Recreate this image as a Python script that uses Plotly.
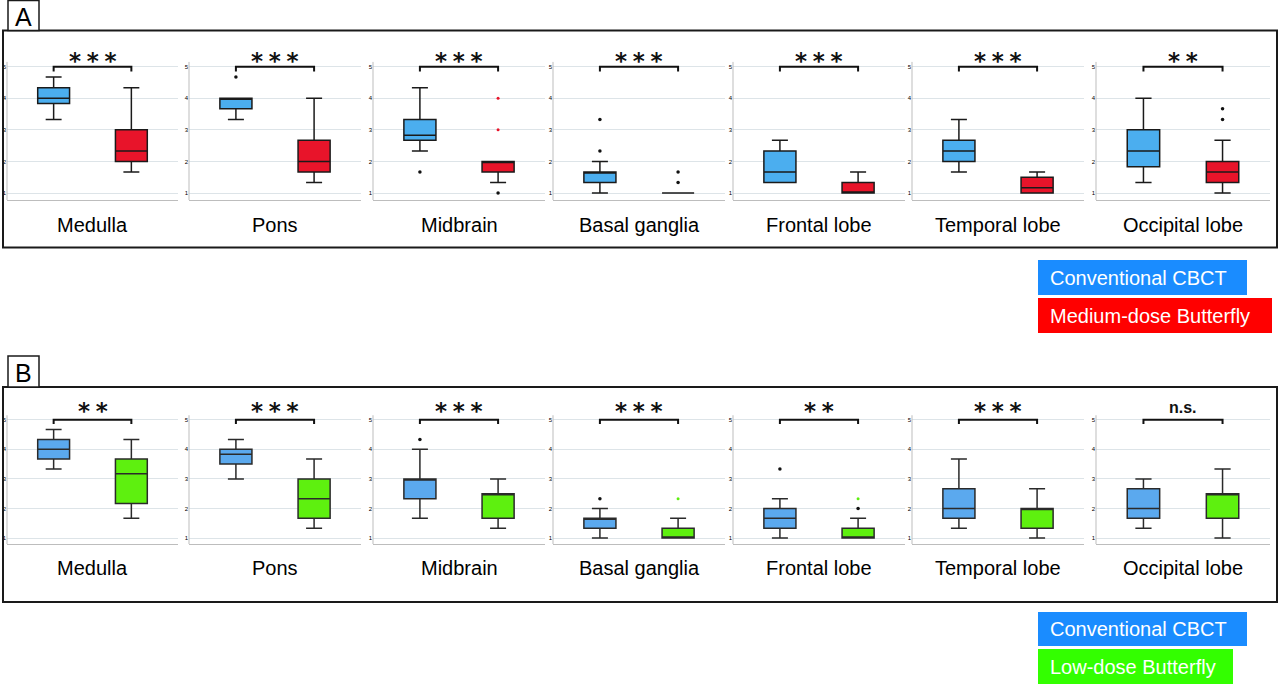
import plotly.graph_objects as go

W, H = 1280, 684

regions = ["Medulla", "Pons", "Midbrain", "Basal ganglia", "Frontal lobe", "Temporal lobe", "Occipital lobe"]
ticks = [1, 2, 3, 4, 5]

# Panel A: Conventional CBCT vs Medium-dose Butterfly
A_conv_lf = [3.33, 3.33, 2.33, 1.0, 1.33, 1.67, 1.33]
A_conv_q1 = [3.83, 3.67, 2.67, 1.33, 1.33, 2.0, 1.83]
A_conv_med = [4.0, 4.0, 2.83, 1.67, 1.67, 2.33, 2.33]
A_conv_q3 = [4.33, 4.0, 3.33, 1.67, 2.33, 2.67, 3.0]
A_conv_uf = [4.67, 4.0, 4.33, 2.0, 2.67, 3.33, 4.0]
A_conv_out = [[], [4.67], [1.67], [3.33, 2.33], [], [], []]

A_med_lf = [1.67, 1.33, 1.33, 1.0, 1.0, 1.0, 1.0]
A_med_q1 = [2.0, 1.67, 1.67, 1.0, 1.0, 1.0, 1.33]
A_med_med = [2.33, 2.0, 2.0, 1.0, 1.0, 1.17, 1.67]
A_med_q3 = [3.0, 2.67, 2.0, 1.0, 1.33, 1.5, 2.0]
A_med_uf = [4.33, 4.0, 2.0, 1.0, 1.67, 1.67, 2.67]
A_med_out = [[], [], [1.0], [1.67, 1.33], [], [], [3.67, 3.33]]
A_med_out_col = [[], [], [4.0, 3.0], [], [], [], []]
A_sig = ["* * *", "* * *", "* * *", "* * *", "* * *", "* * *", "* *"]

# Panel B: Conventional CBCT vs Low-dose Butterfly
B_conv_lf = [3.33, 3.0, 1.67, 1.0, 1.0, 1.33, 1.33]
B_conv_q1 = [3.67, 3.5, 2.33, 1.33, 1.33, 1.67, 1.67]
B_conv_med = [4.0, 3.83, 3.0, 1.67, 1.67, 2.0, 2.0]
B_conv_q3 = [4.33, 4.0, 3.0, 1.67, 2.0, 2.67, 2.67]
B_conv_uf = [4.67, 4.33, 4.0, 2.0, 2.33, 3.67, 3.0]
B_conv_out = [[], [], [4.33], [2.33], [3.33], [], []]

B_low_lf = [1.67, 1.33, 1.33, 1.0, 1.0, 1.0, 1.0]
B_low_q1 = [2.17, 1.67, 1.67, 1.0, 1.0, 1.33, 1.67]
B_low_med = [3.17, 2.33, 2.5, 1.0, 1.0, 2.0, 2.5]
B_low_q3 = [3.67, 3.0, 2.5, 1.33, 1.33, 2.0, 2.5]
B_low_uf = [4.33, 3.67, 3.0, 1.67, 1.67, 2.67, 3.33]
B_low_out = [[], [], [], [], [2.0], [], []]
B_low_out_col = [[], [], [], [2.33], [2.33], [], []]
B_sig = ["* *", "* * *", "* * *", "* * *", "* *", "* * *", "n.s."]

panels = [
    dict(name="A",
         conv=(A_conv_lf, A_conv_q1, A_conv_med, A_conv_q3, A_conv_uf, A_conv_out),
         other=(A_med_lf, A_med_q1, A_med_med, A_med_q3, A_med_uf, A_med_out),
         other_col_out=A_med_out_col, sig=A_sig,
         conv_fill="#4BAEEF", other_fill="#E8142A", line_col="#1a1a1a",
         bottom=200, ppu=31.6, yr=[0.78, 5.45], label_y=225, star_y=5.18, ns_y=5.3,
         frame=(3, 30.5, 1277, 247.5), tag=(8, 0.5, 39, 30.5),
         legend=[("Conventional CBCT", "#1A8CFF", 1038, 260, 1247, 295),
                 ("Medium-dose Butterfly", "#FF0000", 1038, 298, 1272, 333)]),
    dict(name="B",
         conv=(B_conv_lf, B_conv_q1, B_conv_med, B_conv_q3, B_conv_uf, B_conv_out),
         other=(B_low_lf, B_low_q1, B_low_med, B_low_q3, B_low_uf, B_low_out),
         other_col_out=B_low_out_col, sig=B_sig,
         conv_fill="#5BA9EE", other_fill="#5EF00F", line_col="#2a2a2a",
         bottom=544, ppu=29.6, yr=[0.8, 5.6], label_y=568, star_y=5.3, ns_y=5.42,
         frame=(3, 387, 1277, 602), tag=(8, 356, 39, 387),
         legend=[("Conventional CBCT", "#1A8CFF", 1038, 612, 1247, 646),
                 ("Low-dose Butterfly", "#33FF00", 1038, 649, 1233, 684)]),
]

lefts = [7, 189, 373, 553, 733, 912, 1096]
widths = [171, 172, 172, 172, 172, 172, 174]

def px(x):
    return x / W

def py(y):
    return 1 - y / H

fig = go.Figure()
layout = dict(width=W, height=H, margin=dict(l=0, r=0, t=0, b=0),
              paper_bgcolor="white", plot_bgcolor="white", showlegend=False,
              font=dict(family="Liberation Sans, Arial, sans-serif"))
shapes = []
annotations = []

k = 0
for p in panels:
    top_px = p["bottom"] - (p["yr"][1] - p["yr"][0]) * p["ppu"]
    for i, reg in enumerate(regions):
        k += 1
        xn = "x" if k == 1 else f"x{k}"
        yn = "y" if k == 1 else f"y{k}"
        xa = "xaxis" if k == 1 else f"xaxis{k}"
        ya = "yaxis" if k == 1 else f"yaxis{k}"
        layout[xa] = dict(domain=[px(lefts[i]), px(lefts[i] + widths[i])], anchor=yn,
                          range=[-0.6, 1.6], showticklabels=False, showgrid=False,
                          zeroline=False, showline=True, linecolor="#bdbdbd", linewidth=1,
                          fixedrange=True)
        layout[ya] = dict(domain=[py(p["bottom"]), py(top_px)], anchor=xn,
                          range=p["yr"], tickvals=ticks, ticktext=[str(t) for t in ticks],
                          tickfont=dict(size=6, color="#000"), showgrid=True,
                          gridcolor="#dde4e8", gridwidth=1, zeroline=False, showline=False,
                          ticks="", ticklen=0, fixedrange=True)
        for pos, stats, fill in [(0, p["conv"], p["conv_fill"]), (1, p["other"], p["other_fill"])]:
            lf, q1, md, q3, uf, out = stats
            fig.add_trace(go.Box(x=[pos], lowerfence=[lf[i]], q1=[q1[i]], median=[md[i]],
                                 q3=[q3[i]], upperfence=[uf[i]], width=0.41, whiskerwidth=0.5,
                                 fillcolor=fill, line=dict(color=p["line_col"], width=1.5),
                                 boxpoints=False, xaxis=xn, yaxis=yn, hoverinfo="skip"))
            if out[i]:
                fig.add_trace(go.Scatter(x=[pos] * len(out[i]), y=out[i], mode="markers",
                                         marker=dict(size=3.5, color="#111"),
                                         xaxis=xn, yaxis=yn, hoverinfo="skip", cliponaxis=False))
        if p["other_col_out"][i]:
            vals = p["other_col_out"][i]
            fig.add_trace(go.Scatter(x=[1] * len(vals), y=vals, mode="markers",
                                     marker=dict(size=3, color=p["other_fill"]),
                                     xaxis=xn, yaxis=yn, hoverinfo="skip", cliponaxis=False))
        # left axis line
        shapes.append(dict(type="line", xref=f"{xn} domain", yref=yn, x0=0, x1=0,
                           y0=p["yr"][0], y1=5.15, line=dict(color="#bdbdbd", width=1)))
        # bracket
        shapes.append(dict(type="path", xref=xn, yref=yn,
                           path="M 0,4.85 L 0,5.0 L 1,5.0 L 1,4.85",
                           line=dict(color="#111", width=2)))
        sig = p["sig"][i]
        if sig == "n.s.":
            annotations.append(dict(xref=xn, yref=yn, x=0.5, y=p["ns_y"], text="<b>n.s.</b>",
                                    showarrow=False, yanchor="middle",
                                    font=dict(size=16, color="#111",
                                              family="Liberation Sans, Arial")))
        else:
            stext = sig.replace(" ", "\u2005")
            annotations.append(dict(xref=xn, yref=yn, x=0.5, y=p["star_y"], text=f"<b>{stext}</b>",
                                    showarrow=False, yanchor="middle",
                                    font=dict(size=23, color="#111", family="DejaVu Sans")))
        annotations.append(dict(xref="paper", yref="paper",
                                x=px(lefts[i] + widths[i] / 2), y=py(p["label_y"]),
                                text=reg, showarrow=False, xanchor="center", yanchor="middle",
                                font=dict(size=20, color="#000", family="Liberation Sans, Arial")))
    # panel frame
    x0, y0, x1, y1 = p["frame"]
    shapes.append(dict(type="rect", xref="paper", yref="paper", x0=px(x0), x1=px(x1),
                       y0=py(y1), y1=py(y0), line=dict(color="#1a1a1a", width=2)))
    x0, y0, x1, y1 = p["tag"]
    shapes.append(dict(type="rect", xref="paper", yref="paper", x0=px(x0), x1=px(x1),
                       y0=py(y1), y1=py(y0), line=dict(color="#1a1a1a", width=1.5),
                       fillcolor="white"))
    annotations.append(dict(xref="paper", yref="paper", x=px((x0 + x1) / 2), y=py((y0 + y1) / 2 + 1),
                            text=p["name"], showarrow=False, xanchor="center", yanchor="middle",
                            font=dict(size=25, color="#000", family="Liberation Sans, Arial")))
    for text, col, lx0, ly0, lx1, ly1 in p["legend"]:
        shapes.append(dict(type="rect", xref="paper", yref="paper", x0=px(lx0), x1=px(lx1),
                           y0=py(ly1), y1=py(ly0), line=dict(width=0), fillcolor=col))
        annotations.append(dict(xref="paper", yref="paper", x=px(lx0 + 10), y=py((ly0 + ly1) / 2),
                                text=text, showarrow=False, xanchor="left", yanchor="middle",
                                font=dict(size=20, color="white", family="Liberation Sans, Arial")))

layout["shapes"] = shapes
layout["annotations"] = annotations
fig.update_layout(**layout)
fig.write_html("out.html", config={"displayModeBar": False},
               post_script="document.body.style.margin='0';")
